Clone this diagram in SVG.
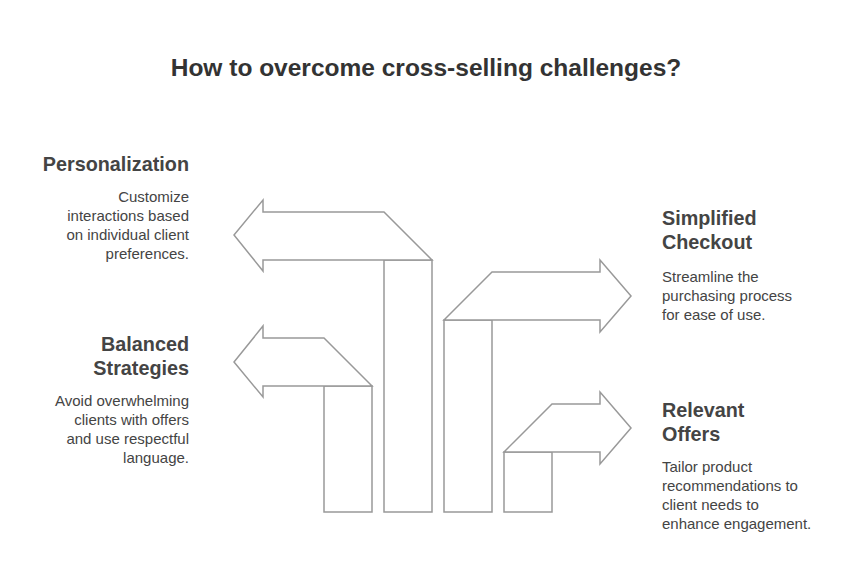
<svg xmlns="http://www.w3.org/2000/svg" width="852" height="571" viewBox="0 0 852 571">
<style>
.s{fill:#fff;stroke:#999;stroke-width:1.5;stroke-linejoin:miter}
.t{font-family:"Liberation Sans",Arial,sans-serif;fill:#333}
.h{font-size:19.8px;font-weight:bold;fill:#444}
.b{font-size:15px;fill:#444}
</style>
<rect width="852" height="571" fill="#fff"/>
<text class="t" x="426" y="76" text-anchor="middle" font-size="24.5" font-weight="bold">How to overcome cross-selling challenges?</text>
<g id="connectors">
<path class="s" d="M384,512V260H432V512Z"/>
<path class="s" d="M384,260L432,260L384,212H263V200L234,235L263,271V260Z"/>
<path class="s" d="M324,512V386H372V512Z"/>
<path class="s" d="M324,386H372L324,338H263V326L234,362L263,397V386Z"/>
<path class="s" d="M444,512V320H492V512Z"/>
<path class="s" d="M444,320L492,272H600V260L631,296L600,332V320Z"/>
<path class="s" d="M504,512V452H552V512Z"/>
<path class="s" d="M504,452L552,404H600V392L631,428L600,464V452Z"/>
</g>
<g id="personalization" text-anchor="end">
<text class="t h" x="189" y="171">Personalization</text>
<text class="t b" x="189" y="202">Customize</text>
<text class="t b" x="189" y="221">interactions based</text>
<text class="t b" x="189" y="240">on individual client</text>
<text class="t b" x="189" y="259">preferences.</text>
</g>
<g id="balanced" text-anchor="end">
<text class="t h" x="189" y="351">Balanced</text>
<text class="t h" x="189" y="375">Strategies</text>
<text class="t b" x="189" y="406">Avoid overwhelming</text>
<text class="t b" x="189" y="425">clients with offers</text>
<text class="t b" x="189" y="444">and use respectful</text>
<text class="t b" x="189" y="463">language.</text>
</g>
<g id="checkout">
<text class="t h" x="662" y="225">Simplified</text>
<text class="t h" x="662" y="249">Checkout</text>
<text class="t b" x="662" y="282">Streamline the</text>
<text class="t b" x="662" y="301">purchasing process</text>
<text class="t b" x="662" y="320">for ease of use.</text>
</g>
<g id="offers">
<text class="t h" x="662" y="417">Relevant</text>
<text class="t h" x="662" y="441">Offers</text>
<text class="t b" x="662" y="472">Tailor product</text>
<text class="t b" x="662" y="491">recommendations to</text>
<text class="t b" x="662" y="510">client needs to</text>
<text class="t b" x="662" y="529">enhance engagement.</text>
</g>
</svg>
